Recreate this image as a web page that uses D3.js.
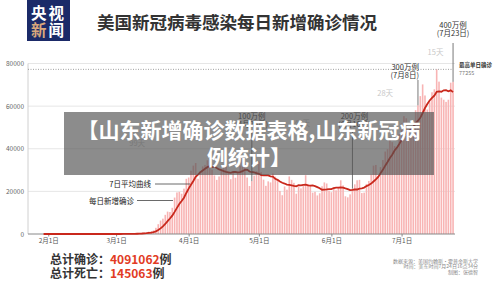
<!DOCTYPE html>
<html>
<head>
<meta charset="utf-8">
<script src="https://cdn.jsdelivr.net/npm/d3@7/dist/d3.min.js"></script>
<style>
	body { margin: 0; background: #fff; }
	svg { display: block; font-family: 'Noto Sans CJK SC', 'Noto Sans', sans-serif; }
</style>
</head>
<body>
<div id="chart"></div>
<script>
(function () {

	'use strict';

	// daily new cases, from 2020-01-24
	var startDay = '2020-01-24';
	var casesJan = [1, 0, 3, 0, 0, 0, 1, 1];
	var casesFeb = [0, 1, 0, 0, 1, 0, 0, 0, 0, 1, 0, 0, 1, 0, 0, 0, 0, 0, 0, 0, 2, 0, 0, 0, 0, 0, 1, 2, 8];
	var casesMar = [7, 23, 20, 31, 70, 68, 112, 116, 181, 289, 401, 424, 703, 661, 1100, 1250, 1700, 2900, 4600, 6300,
		7200, 9000, 10500, 10300, 12300, 17100, 19500, 19800, 18900, 21300, 25900];
	var casesApr = [26500, 29700, 32100, 33300, 25900, 29500, 31700, 32400, 34600, 35100, 30200, 27500, 25400, 27000, 30100,
		31300, 32700, 28700, 25700, 28700, 26400, 28700, 32100, 36000, 33000, 26500, 22500, 24800, 27400, 29500];
	var casesMay = [34000, 29000, 25500, 22600, 24700, 24200, 28400, 26900, 25600, 20200, 18200, 22300, 20800, 27000, 25400,
		24000, 18900, 22100, 21400, 22500, 27600, 23500, 23000, 19400, 19800, 18100, 19100, 22400, 24200, 23700, 20300];
	var casesJun = [19600, 21800, 20500, 22000, 25200, 22800, 17700, 17200, 18600, 21300, 23300, 25200, 25400, 19200, 19400,
		23500, 24900, 27900, 32100, 32400, 27300, 31400, 34700, 38700, 39800, 45300, 43100, 41300, 40600, 46900];
	var casesJul = [51900, 55300, 54300, 48700, 45400, 49900, 58100, 60400, 64700, 70200, 65000, 58400, 61800, 66500, 67900,
		77255, 71500, 64000, 63000, 62000, 63000, 71000, 71400];

	var yTicks = [0, 20000, 40000, 60000, 80000];
	var xTickDates = ['2020-02-01', '2020-03-01', '2020-04-01', '2020-05-01', '2020-06-01', '2020-07-01'];
	var xTickLabels = ['2月1日', '3月1日', '4月1日', '5月1日', '6月1日', '7月1日'];

	var milestoneDates = ['2020-04-28', '2020-06-10', '2020-07-08', '2020-07-23'];
	var milestoneLabels = ['100万例', '200万例', '300万例', '400万例'];
	var milestoneSubs = ['(4月28日)', '(6月10日)', '(7月8日)', '(7月23日)'];
	var spanLabels = ['99天', '43天', '28天', '15天'];
	var spanFrom = ['2020-01-21', '2020-04-28', '2020-06-10', '2020-07-08'];

	var peakValue = 77255;
	var totalCases = '4091062';
	var totalDeaths = '145063';

	var title = '美国新冠病毒感染每日新增确诊情况';
	var overlayLines = ['【山东新增确诊数据表格,山东新冠病', '例统计】'];
	var sourceLines = ['数据来源：美国约翰斯·霍普金斯大学', '时间：美东时间7月24日16点34分', '制图：张德智'];

	// layout / style
	var W = 500, H = 288;
	var milestoneStyle = [
		{ anchor: 'middle', dx: 0, top: 119, lineTop: 131 },
		{ anchor: 'middle', dx: 2, top: 119, lineTop: 131 },
		{ anchor: 'end', dx: 1, top: 70, lineTop: 80 },
		{ anchor: 'middle', dx: 0, top: 28, lineTop: 43 }
	];
	var spanY = [146, 126, 96, 55];

	var parse = d3.timeParse('%Y-%m-%d');
	var start = parse(startDay);
	var daily = [].concat(casesJan, casesFeb, casesMar, casesApr, casesMay, casesJun, casesJul)
		.map(function (v, i) {
			return { date: d3.timeDay.offset(start, i), value: v };
		});

	var avg = [];
	for (var i = 6; i < daily.length; i++) {
		avg.push({
			date: daily[i].date,
			value: d3.mean(daily.slice(i - 6, i + 1), function (d) { return d.value; })
		});
	}

	var x = d3.scaleTime()
		.domain([parse('2020-01-23'), parse('2020-07-24')])
		.range([27.2, 455.4]);
	var y = d3.scaleLinear()
		.domain([0, 80000])
		.range([234, 63.5]);

	var svg = d3.select('#chart')
		.append('svg')
		.attr('width', W)
		.attr('height', H);

	// logo
	var logo = svg.append('g');
	logo.append('rect')
		.attr('x', 27).attr('y', 0)
		.attr('width', 43).attr('height', 41)
		.attr('fill', '#1b2a68');
	logo.append('text')
		.attr('x', 48.5).attr('y', 18.5)
		.attr('text-anchor', 'middle')
		.attr('font-size', 15.5).attr('font-weight', 'bold')
		.attr('letter-spacing', 2)
		.attr('fill', '#fff')
		.text('央视');
	var l2 = logo.append('text')
		.attr('x', 48.5).attr('y', 36)
		.attr('text-anchor', 'middle')
		.attr('font-size', 15.5).attr('font-weight', 'bold')
		.attr('letter-spacing', 2);
	l2.append('tspan').attr('fill', '#d8a77c').text('新');
	l2.append('tspan').attr('fill', '#fff').text('闻');

	svg.append('text')
		.attr('x', 97).attr('y', 29)
		.attr('font-size', 17.5).attr('font-weight', 'bold')
		.attr('fill', '#333')
		.text(title);

	// grid
	svg.append('g')
		.selectAll('line')
		.data(yTicks.slice(1))
		.enter().append('line')
		.attr('x1', 28).attr('x2', 455)
		.attr('y1', function (d) { return y(d); })
		.attr('y2', function (d) { return y(d); })
		.attr('stroke', '#e6e6e6');

	svg.append('line')
		.attr('x1', 28).attr('x2', 28)
		.attr('y1', y(80000)).attr('y2', y(0))
		.attr('stroke', '#d0d0d0');

	var yAxis = svg.append('g')
		.attr('transform', 'translate(24,0)')
		.call(d3.axisLeft(y).tickValues(yTicks).tickSize(0).tickPadding(0).tickFormat(d3.format('d')));
	yAxis.select('.domain').remove();
	yAxis.selectAll('text')
		.attr('font-size', 6.5)
		.attr('fill', '#666')
		.attr('font-family', 'Noto Sans CJK SC');

	// bars
	svg.append('g')
		.selectAll('rect')
		.data(daily)
		.enter().append('rect')
		.attr('x', function (d) { return x(d.date) - 0.8; })
		.attr('width', 1.6)
		.attr('y', function (d) { return y(d.value); })
		.attr('height', function (d) { return y(0) - y(d.value); })
		.attr('fill', '#f8b4b4');

	// peak dotted line
	svg.append('line')
		.attr('x1', 28).attr('x2', x(parse(milestoneDates[3])))
		.attr('y1', y(peakValue)).attr('y2', y(peakValue))
		.attr('stroke', '#888')
		.attr('stroke-width', 0.8)
		.attr('stroke-dasharray', '1,1.5');

	// x axis
	var xAxis = svg.append('g')
		.attr('transform', 'translate(0,' + y(0) + ')')
		.call(d3.axisBottom(x)
			.tickValues(xTickDates.map(parse))
			.tickSize(2.5)
			.tickPadding(2)
			.tickFormat(function (d, i) { return xTickLabels[i]; }));
	xAxis.select('.domain')
		.attr('d', 'M28,0H455')
		.attr('stroke', '#888');
	xAxis.selectAll('.tick line').attr('stroke', '#888');
	xAxis.selectAll('text')
		.attr('font-size', 6.5)
		.attr('fill', '#555')
		.attr('font-family', 'Noto Sans CJK SC');

	// 7-day average
	svg.append('path')
		.datum(avg)
		.attr('fill', 'none')
		.attr('stroke', '#c9281c')
		.attr('stroke-width', 1.8)
		.attr('d', d3.line()
			.x(function (d) { return x(d.date); })
			.y(function (d) { return y(d.value); }));

	// milestones
	var byDate = d3.index(daily, function (d) { return +d.date; });
	milestoneDates.forEach(function (ds, k) {
		var dt = parse(ds);
		var st = milestoneStyle[k];
		var mx = x(dt);
		svg.append('line')
			.attr('x1', mx).attr('x2', mx)
			.attr('y1', st.lineTop)
			.attr('y2', y(byDate.get(+dt).value))
			.attr('stroke', '#555')
			.attr('stroke-width', 0.8);
		var tx = mx + st.dx;
		svg.append('text')
			.attr('x', tx).attr('y', st.top)
			.attr('text-anchor', st.anchor)
			.attr('font-size', 7.5)
			.attr('fill', '#333')
			.text(milestoneLabels[k]);
		svg.append('text')
			.attr('x', tx).attr('y', st.top + 8)
			.attr('text-anchor', st.anchor)
			.attr('font-size', 7.5)
			.attr('fill', '#333')
			.text(milestoneSubs[k]);
		var from = parse(spanFrom[k]);
		svg.append('text')
			.attr('x', x(new Date((+from + +dt) / 2)))
			.attr('y', spanY[k])
			.attr('text-anchor', 'middle')
			.attr('font-size', 7.5)
			.attr('fill', '#c8c8c8')
			.text(spanLabels[k]);
	});

	var peakX = x(parse(milestoneDates[3])) + 6;
	svg.append('text')
		.attr('x', peakX).attr('y', 67)
		.attr('font-size', 5.5).attr('font-weight', 'bold')
		.attr('fill', '#333')
		.text('最高单日确诊');
	svg.append('text')
		.attr('x', peakX).attr('y', 74.5)
		.attr('font-size', 5.5)
		.attr('fill', '#777')
		.text(d3.format('d')(peakValue));

	// pointers
	svg.append('text')
		.attr('x', 151).attr('y', 187)
		.attr('text-anchor', 'end')
		.attr('font-size', 7.5)
		.attr('fill', '#222')
		.text('7日平均曲线');
	svg.append('line')
		.attr('x1', 155).attr('x2', 190)
		.attr('y1', 184).attr('y2', 184)
		.attr('stroke', '#444').attr('stroke-width', 0.8);
	svg.append('text')
		.attr('x', 134).attr('y', 203.5)
		.attr('text-anchor', 'end')
		.attr('font-size', 7.5)
		.attr('fill', '#222')
		.text('每日新增确诊');
	svg.append('line')
		.attr('x1', 137).attr('x2', 173)
		.attr('y1', 200.5).attr('y2', 200.5)
		.attr('stroke', '#444').attr('stroke-width', 0.8);

	// totals
	var t1 = svg.append('text')
		.attr('x', 50).attr('y', 263.5)
		.attr('font-size', 12).attr('font-weight', 'bold');
	t1.append('tspan').attr('fill', '#333').text('总计确诊：');
	t1.append('tspan').attr('fill', '#e23b24').text(totalCases);
	t1.append('tspan').attr('fill', '#333').text('例');
	var t2 = svg.append('text')
		.attr('x', 50).attr('y', 278)
		.attr('font-size', 12).attr('font-weight', 'bold');
	t2.append('tspan').attr('fill', '#333').text('总计死亡：');
	t2.append('tspan').attr('fill', '#e23b24').text(totalDeaths);
	t2.append('tspan').attr('fill', '#333').text('例');

	svg.append('g')
		.selectAll('text')
		.data(sourceLines)
		.enter().append('text')
		.attr('x', 478)
		.attr('y', function (d, i) { return 263 + i * 5.3; })
		.attr('text-anchor', 'end')
		.attr('font-size', 5)
		.attr('fill', '#888')
		.text(function (d) { return d; });

	// overlay banner
	svg.append('rect')
		.attr('x', 64).attr('y', 112)
		.attr('width', 370).attr('height', 63)
		.attr('fill', 'rgba(80,80,80,0.66)');
	svg.append('g')
		.selectAll('text')
		.data(overlayLines)
		.enter().append('text')
		.attr('x', 249)
		.attr('y', function (d, i) { return 138 + i * 27; })
		.attr('text-anchor', 'middle')
		.attr('font-size', 21)
		.attr('font-weight', 'bold')
		.attr('fill', '#fff')
		.text(function (d) { return d; });

})();
</script>
</body>
</html>
